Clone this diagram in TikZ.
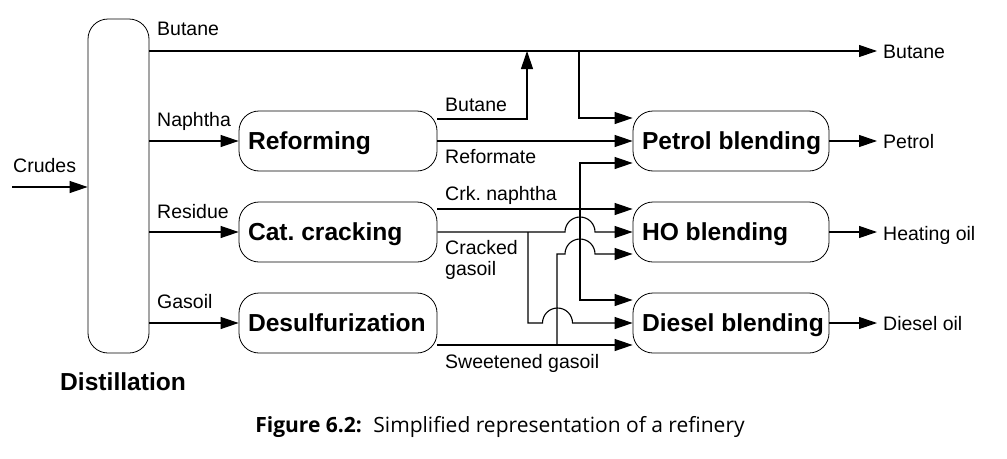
\documentclass[tikz,border=0pt]{standalone}
\usepackage{fontspec}
\setmainfont{Liberation Sans}
\newfontfamily\capfont{Open Sans}
\usetikzlibrary{arrows.meta}
\newcommand{\unittext}[2]{\makebox[#1][l]{#2}}
\begin{document}
\begin{tikzpicture}[x=1pt,y=1pt,
  lbl/.style={font=\fontsize{19.5}{22}\selectfont, inner sep=0pt, anchor=base west},
  unit/.style={draw, line width=0.8pt, rounded corners=20pt, minimum width=198pt,
    minimum height=60pt, inner xsep=9pt, inner ysep=0pt,
    font=\bfseries\fontsize{24.6}{28}\selectfont, text height=18pt, text depth=2pt},
  flow/.style={line width=1.1pt},
  arr/.style={flow, -{Triangle[length=18pt,width=12pt]}}]
\useasboundingbox[fill=white] (0,0) rectangle (1007,-458);

% units
\node[draw, line width=0.8pt, rounded corners=20pt, minimum width=61pt,
  minimum height=334pt, inner sep=0pt] (dist) at (118.5,-186) {};
\node[unit] (ref) at (338,-141) {\unittext{180pt}{Reforming}};
\node[unit] (cat) at (338,-232) {\unittext{180pt}{Cat.\ cracking}};
\node[unit] (des) at (338,-323) {\unittext{180pt}{Desulfurization}};
\node[unit, minimum width=196pt] (pet) at (731,-141) {\unittext{178pt}{Petrol blending}};
\node[unit, minimum width=196pt] (hob) at (731,-232) {\unittext{178pt}{HO blending}};
\node[unit, minimum width=196pt] (dsl) at (731,-323) {\unittext{178pt}{Diesel blending}};

% labels
\node[lbl, font=\bfseries\fontsize{24.6}{28}\selectfont] (distl) at (60,-390) {Distillation};
\node[lbl] (crudes) at (13,-172) {Crudes};
\node[lbl] (lbut) at (157,-35) {Butane};
\node[lbl] (lnap) at (157,-126) {Naphtha};
\node[lbl] (lres) at (157,-218) {Residue};
\node[lbl] (lgas) at (157,-308) {Gasoil};
\node[lbl] (mbut) at (445,-111) {Butane};
\node[lbl] (mref) at (445,-163) {Reformate};
\node[lbl] (mcrk) at (445,-200) {Crk.\ naphtha};
\node[lbl] (mcg1) at (445,-254) {Cracked};
\node[lbl] (mcg2) at (445,-275) {gasoil};
\node[lbl] (mswt) at (445,-368) {Sweetened gasoil};
\node[lbl] (obut) at (883,-58) {Butane};
\node[lbl] (opet) at (883,-148) {Petrol};
\node[lbl] (oho) at (883,-240) {Heating oil};
\node[lbl] (odsl) at (883,-330) {Diesel oil};
\node[anchor=base, inner sep=0pt, font=\capfont\fontsize{21}{24}\selectfont] (cap)
  at (500,-432) {\textbf{Figure 6.2:}\hspace{0.55em}Simplified representation of a refinery};

% coordinates
\coordinate (cin) at (12,-187);
\coordinate (bout) at (877,-51);
\coordinate (bt) at (527,-51);
\coordinate (bj) at (579,-51);
\coordinate (cj) at (580,-209);
\coordinate (gj) at (528,-232);
\coordinate (sj) at (557,-345);

% feeds
\draw[arr] (cin) -- (cin -| dist.west);
\draw[arr] (dist.east |- bout) -- (bout);
\draw[arr] (dist.east |- ref.west) -- (ref.west);
\draw[arr] (dist.east |- cat.west) -- (cat.west);
\draw[arr] (dist.east |- des.west) -- (des.west);

% reforming
\draw[arr] ([yshift=22pt]ref.east) -| (bt);
\draw[arr] (ref.east) -- (pet.west);
\draw[arr] (bj) |- ([yshift=23pt]pet.west);

% cat cracking
\draw[arr] ([yshift=23pt]cat.east) -- ([yshift=23pt]hob.west);
\draw[arr] (cj) |- ([yshift=-22pt]pet.west);
\draw[arr] (cj) |- ([yshift=23pt]dsl.west);
\draw[arr] (cat.east) -- (565,-232) arc[start angle=180, end angle=0, radius=15pt] -- (hob.west);
\draw[arr] (gj) -- (528,-323) -- (542.5,-323) arc[start angle=180, end angle=0, radius=15pt] -- (dsl.west);

% desulfurization
\draw[arr] ([yshift=-22pt]des.east) -- ([yshift=-22pt]dsl.west);
\draw[arr] (sj) -- (557,-254) -- (565,-254) arc[start angle=180, end angle=0, radius=15pt] -- ([yshift=-22pt]hob.west);

% outputs
\draw[arr] (pet.east) -- ([xshift=-6pt]pet.east -| opet.west);
\draw[arr] (hob.east) -- ([xshift=-6pt]hob.east -| oho.west);
\draw[arr] (dsl.east) -- ([xshift=-6pt]dsl.east -| odsl.west);
\end{tikzpicture}
\end{document}
